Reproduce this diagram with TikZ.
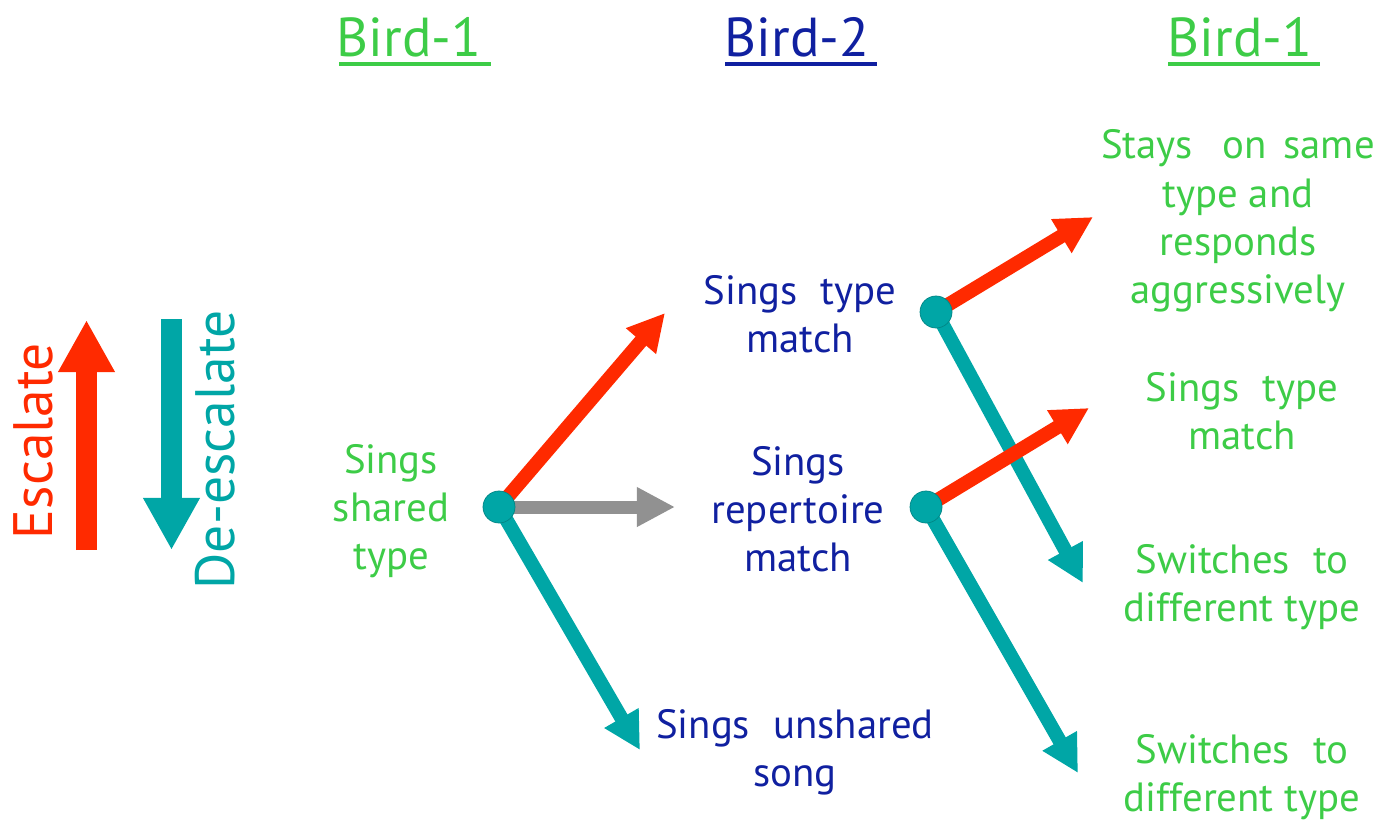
\documentclass[tikz,border=0pt]{standalone}
\usepackage{fontspec}
\setmainfont{PT Sans}
\usetikzlibrary{arrows.meta}
\definecolor{cgreen}{RGB}{61,204,71}
\definecolor{cblue}{RGB}{16,32,160}
\definecolor{cred}{RGB}{255,42,0}
\definecolor{cteal}{RGB}{0,166,166}
\definecolor{cgray}{RGB}{145,145,145}
\begin{document}
\begin{tikzpicture}[x=0.01cm,y=-0.01cm,
  lbl/.style={align=center, font=\fontsize{11.6}{13.7}\selectfont, inner sep=0pt},
  glbl/.style={lbl, text=cgreen},
  blbl/.style={lbl, text=cblue},
  head/.style={font=\fontsize{15.6}{18}\selectfont, inner sep=0pt, anchor=base},
  uline/.style={line width=0.04cm},
  big/.style={font=\fontsize{15.8}{18}\selectfont, inner sep=0pt, rotate=90},
  dot/.style={circle, fill=cteal, draw=cteal!80!black, line width=0.2pt, minimum size=0.32cm, inner sep=0pt},
  redarr/.style={draw=cred, line width=0.14cm, -{Triangle[length=0.37cm,width=0.37cm]}},
  tealarr/.style={draw=cteal, line width=0.14cm, -{Triangle[length=0.37cm,width=0.37cm]}},
  grayarr/.style={draw=cgray, line width=0.13cm, -{Triangle[length=0.38cm,width=0.37cm]}},
  bigred/.style={draw=cred, line width=0.21cm, -{Triangle[length=0.52cm,width=0.53cm]}},
  bigteal/.style={draw=cteal, line width=0.21cm, -{Triangle[length=0.52cm,width=0.53cm]}}
]
\useasboundingbox (0,0) rectangle (1382,821);

% headings
\node[head, text=cgreen] (h1) at (409,57) {Bird-1};
\node[head, text=cblue] (h2) at (797,57) {Bird-2};
\node[head, text=cgreen] (h3) at (1240,57) {Bird-1};
\draw[uline, cgreen] (339,64) -- (491,64);
\draw[uline, cblue] (725,64) -- (877,64);
\draw[uline, cgreen] (1168,64) -- (1320,64);

% escalate / de-escalate
\coordinate (eb) at (86.5,550);
\coordinate (et) at (86.5,320);
\coordinate (db) at (171.5,550);
\coordinate (dt) at (171.5,319);
\draw[bigred] (eb) -- (et);
\draw[bigteal] (dt) -- (db);
\node[big, text=cred] (esc) at (33,441) {Escalate};
\node[big, text=cteal] (desc) at (215,450) {De-escalate};

% labels
\node[glbl] (shared) at (391,511) {Sings\\shared\\type};
\node[blbl] (tm) at (800,314) {Sings\hspace{0.3em} type\\match};
\node[blbl] (rm) at (798,509) {Sings\\repertoire\\match};
\node[blbl] (un) at (795,752) {Sings\hspace{0.3em} unshared\\song};
\node[glbl] (stay) at (1238,221) {Stays\hspace{0.45em} on\hspace{0.15em} same\\type and\\responds\\aggressively};
\node[glbl] (tm2) at (1242,411) {Sings\hspace{0.3em} type\\match};
\node[glbl] (sw1) at (1242,587) {Switches\hspace{0.3em} to\\different type};
\node[glbl] (sw2) at (1242,777) {Switches\hspace{0.3em} to\\different type};

% tips
\coordinate (t1r) at (665,313);
\coordinate (t1g) at (675,507);
\coordinate (t1t) at (640,750);
\coordinate (t2r) at (1093,217);
\coordinate (t2t) at (1083,583);
\coordinate (t3r) at (1089,408);
\coordinate (t3t) at (1078,773);

% dots positions
\coordinate (p1) at (499,507);
\coordinate (p2) at (936,312);
\coordinate (p3) at (926,507);

\draw[redarr] (p1) -- (t1r);
\draw[grayarr] (p1) -- (t1g);
\draw[tealarr] (p1) -- (t1t);
\draw[redarr] (p2) -- (t2r);
\draw[tealarr] (p2) -- (t2t);
\draw[redarr] (p3) -- (t3r);
\draw[tealarr] (p3) -- (t3t);

\node[dot] (d1) at (p1) {};
\node[dot] (d2) at (p2) {};
\node[dot] (d3) at (p3) {};
\end{tikzpicture}
\end{document}
